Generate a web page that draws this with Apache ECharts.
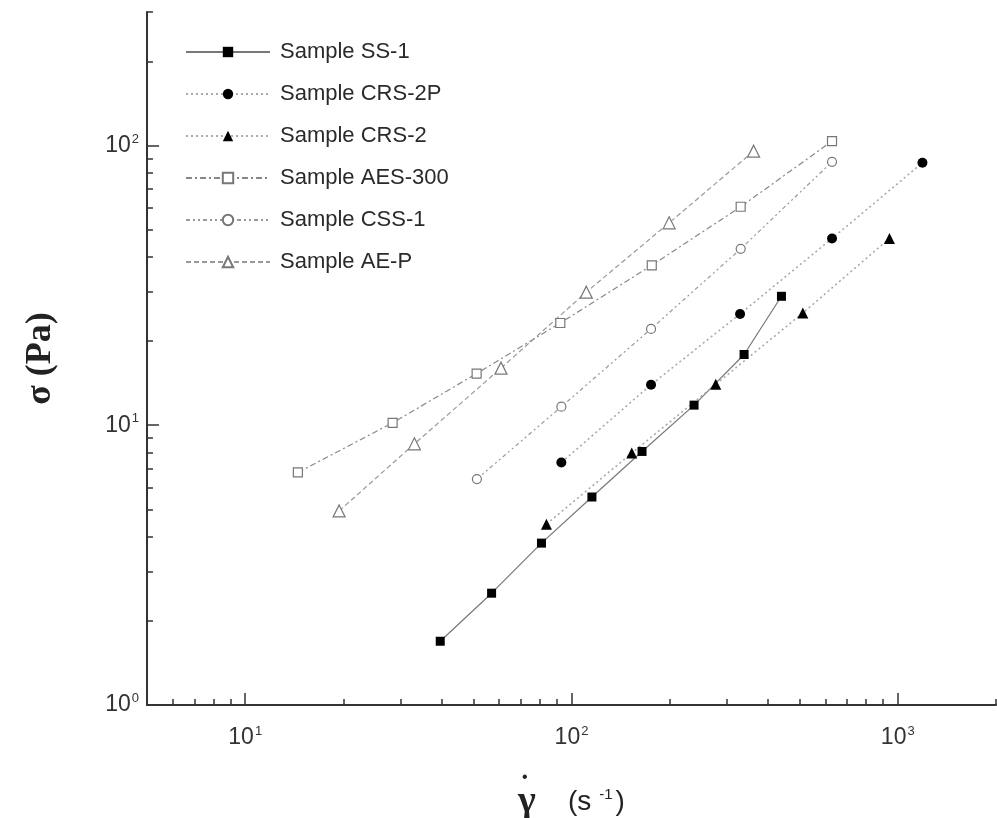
<!DOCTYPE html>
<html>
<head>
<meta charset="utf-8">
<script src="https://cdn.jsdelivr.net/npm/echarts@6/dist/echarts.min.js"></script>
<style>
  html, body { margin: 0; padding: 0; background: #fff; }
  #chart { width: 997px; height: 818px; }
</style>
</head>
<body>
<div id="chart"></div>
<script>
// Flow curves: shear stress vs. shear rate, log-log
const seriesNames = ['Sample SS-1', 'Sample CRS-2P', 'Sample CRS-2', 'Sample AES-300', 'Sample CSS-1', 'Sample AE-P'];

// [shear rate (1/s), shear stress (Pa)]
const ss1    = [[39.6, 1.69], [56.9, 2.51], [80.9, 3.79], [115.5, 5.54], [164.5, 8.06], [237.5, 11.8], [338, 17.9], [440, 28.9]];
const crs2p  = [[93.1, 7.36], [175.3, 13.96], [328.6, 25.0], [628.7, 46.5], [1190, 86.7]];
const crs2   = [[83.8, 4.43], [153, 7.95], [276.8, 14.0], [511.7, 25.2], [943, 46.5]];
const aes300 = [[14.5, 6.78], [28.3, 10.2], [51.2, 15.3], [92.4, 23.2], [176.2, 37.3], [330, 60.4], [628.7, 103.6]];
const css1   = [[51.3, 6.42], [93.1, 11.65], [175.3, 22.1], [330, 42.7], [628.7, 87.4]];
const aep    = [[19.4, 4.94], [33.0, 8.58], [60.8, 16.0], [111, 29.9], [199.2, 52.9], [361.5, 95.4]];

// axis ranges and tick positions
const xRange = [5, 2000];
const yRange = [1, 300];
const xMajorTicks = [10, 100, 1000];
const xMinorTicks = [6, 7, 8, 9, 20, 30, 40, 50, 60, 70, 80, 90, 200, 300, 400, 500, 600, 700, 800, 900, 2000];
const yMajorTicks = [1, 10, 100];
const yMinorTicks = [2, 3, 4, 5, 6, 7, 8, 9, 20, 30, 40, 50, 60, 70, 80, 90, 200, 300];

const axisColor = '#333';
const powLabel = v => '{b|10}{e|' + Math.round(Math.log10(v)) + '}';
const powRich = {
  b: { fontFamily: 'Liberation Sans', fontSize: 23, color: '#333' },
  e: { fontFamily: 'Liberation Sans', fontSize: 13, color: '#333', padding: [0, 0, 13, 1] }
};

function makeSeries(name, data, symbol, size, filled, lineColor, lineType, lineWidth) {
  return {
    name: name,
    type: 'line',
    data: data,
    xAxisIndex: 0,
    yAxisIndex: 0,
    symbol: symbol,
    symbolSize: size,
    showAllSymbol: true,
    animation: false,
    lineStyle: { color: lineColor, width: lineWidth, type: lineType },
    itemStyle: filled
      ? { color: '#000', borderWidth: 0 }
      : { color: '#fff', borderColor: '#777', borderWidth: 1.2 },
    emphasis: { disabled: true },
    z: filled ? 3 : 2
  };
}

const chart = echarts.init(document.getElementById('chart'), null, { renderer: 'canvas' });

chart.setOption({
  backgroundColor: '#fff',
  animation: false,
  grid: { left: 147, right: 1, top: 12, bottom: 113, containLabel: false, outerBoundsMode: 'none' },
  legend: {
    orient: 'vertical',
    left: 185,
    top: 41,
    padding: 0,
    itemWidth: 84,
    itemHeight: 13,
    itemGap: 20,
    selectedMode: false,
    textStyle: { fontFamily: 'Liberation Sans', fontSize: 22, color: '#2a2a2a', padding: [0, 0, 0, 5] },
    data: seriesNames
  },
  xAxis: [
    {
      type: 'log', logBase: 10, min: xRange[0], max: xRange[1],
      position: 'bottom',
      name: '{dot|•}\n{g|γ}{gap| }{u|(s}{s|-1}{u|)}',
      nameLocation: 'middle',
      nameGap: 68,
      nameTextStyle: {
        rich: {
          dot: { align: 'left', fontFamily: 'Liberation Sans', fontSize: 16, lineHeight: 10, color: '#222', padding: [0, 0, 0, 4] },
          g: { fontFamily: 'Liberation Serif', fontWeight: 'bold', fontSize: 38, color: '#222' },
          gap: { fontSize: 28, width: 32 },
          u: { fontFamily: 'Liberation Sans', fontSize: 28, color: '#222' },
          s: { fontFamily: 'Liberation Sans', fontSize: 15, color: '#222', padding: [0, 3, 15, 8] }
        }
      },
      axisLine: { show: true, onZero: false, lineStyle: { color: axisColor, width: 2 } },
      axisTick: { show: true, inside: true, length: 12, customValues: xMajorTicks, lineStyle: { color: axisColor, width: 1.5 } },
      axisLabel: { show: true, customValues: xMajorTicks, margin: 20, formatter: powLabel, rich: powRich },
      splitLine: { show: false },
      minorTick: { show: false }
    },
    {
      type: 'log', logBase: 10, min: xRange[0], max: xRange[1],
      position: 'bottom',
      axisLine: { show: false },
      axisTick: { show: true, inside: true, length: 6, customValues: xMinorTicks, lineStyle: { color: axisColor, width: 1.5 } },
      axisLabel: { show: false },
      splitLine: { show: false }
    }
  ],
  yAxis: [
    {
      type: 'log', logBase: 10, min: yRange[0], max: yRange[1],
      position: 'left',
      name: 'σ (Pa)',
      nameLocation: 'middle',
      nameGap: 88,
      nameRotate: 90,
      nameTextStyle: { fontFamily: 'Liberation Serif', fontWeight: 'bold', fontSize: 36, color: '#222', padding: [0, 0, 0, 0] },
      axisLine: { show: true, onZero: false, lineStyle: { color: axisColor, width: 2 } },
      axisTick: { show: true, inside: true, length: 12, customValues: yMajorTicks, lineStyle: { color: axisColor, width: 1.5 } },
      axisLabel: { show: true, customValues: yMajorTicks, margin: 8, formatter: powLabel, rich: powRich },
      splitLine: { show: false },
      minorTick: { show: false }
    },
    {
      type: 'log', logBase: 10, min: yRange[0], max: yRange[1],
      position: 'left',
      axisLine: { show: false },
      axisTick: { show: true, inside: true, length: 6, customValues: yMinorTicks, lineStyle: { color: axisColor, width: 1.5 } },
      axisLabel: { show: false },
      splitLine: { show: false }
    }
  ],
  series: [
    makeSeries(seriesNames[0], ss1,    'rect',     9,  true,  '#777', 'solid', 1.2),
    makeSeries(seriesNames[1], crs2p,  'circle',   10, true,  '#aaa', [2, 3], 1.6),
    makeSeries(seriesNames[2], crs2,   'triangle', 11, true,  '#aaa', [2, 3], 1.6),
    makeSeries(seriesNames[3], aes300, 'rect',     9,  false, '#888', [6, 3, 2, 3], 1.2),
    makeSeries(seriesNames[4], css1,   'circle',   9,  false, '#999', [4, 3, 2, 3, 2, 3], 1.2),
    makeSeries(seriesNames[5], aep,    'triangle', 12, false, '#999', [5, 3], 1.2)
  ]
});
</script>
</body>
</html>
